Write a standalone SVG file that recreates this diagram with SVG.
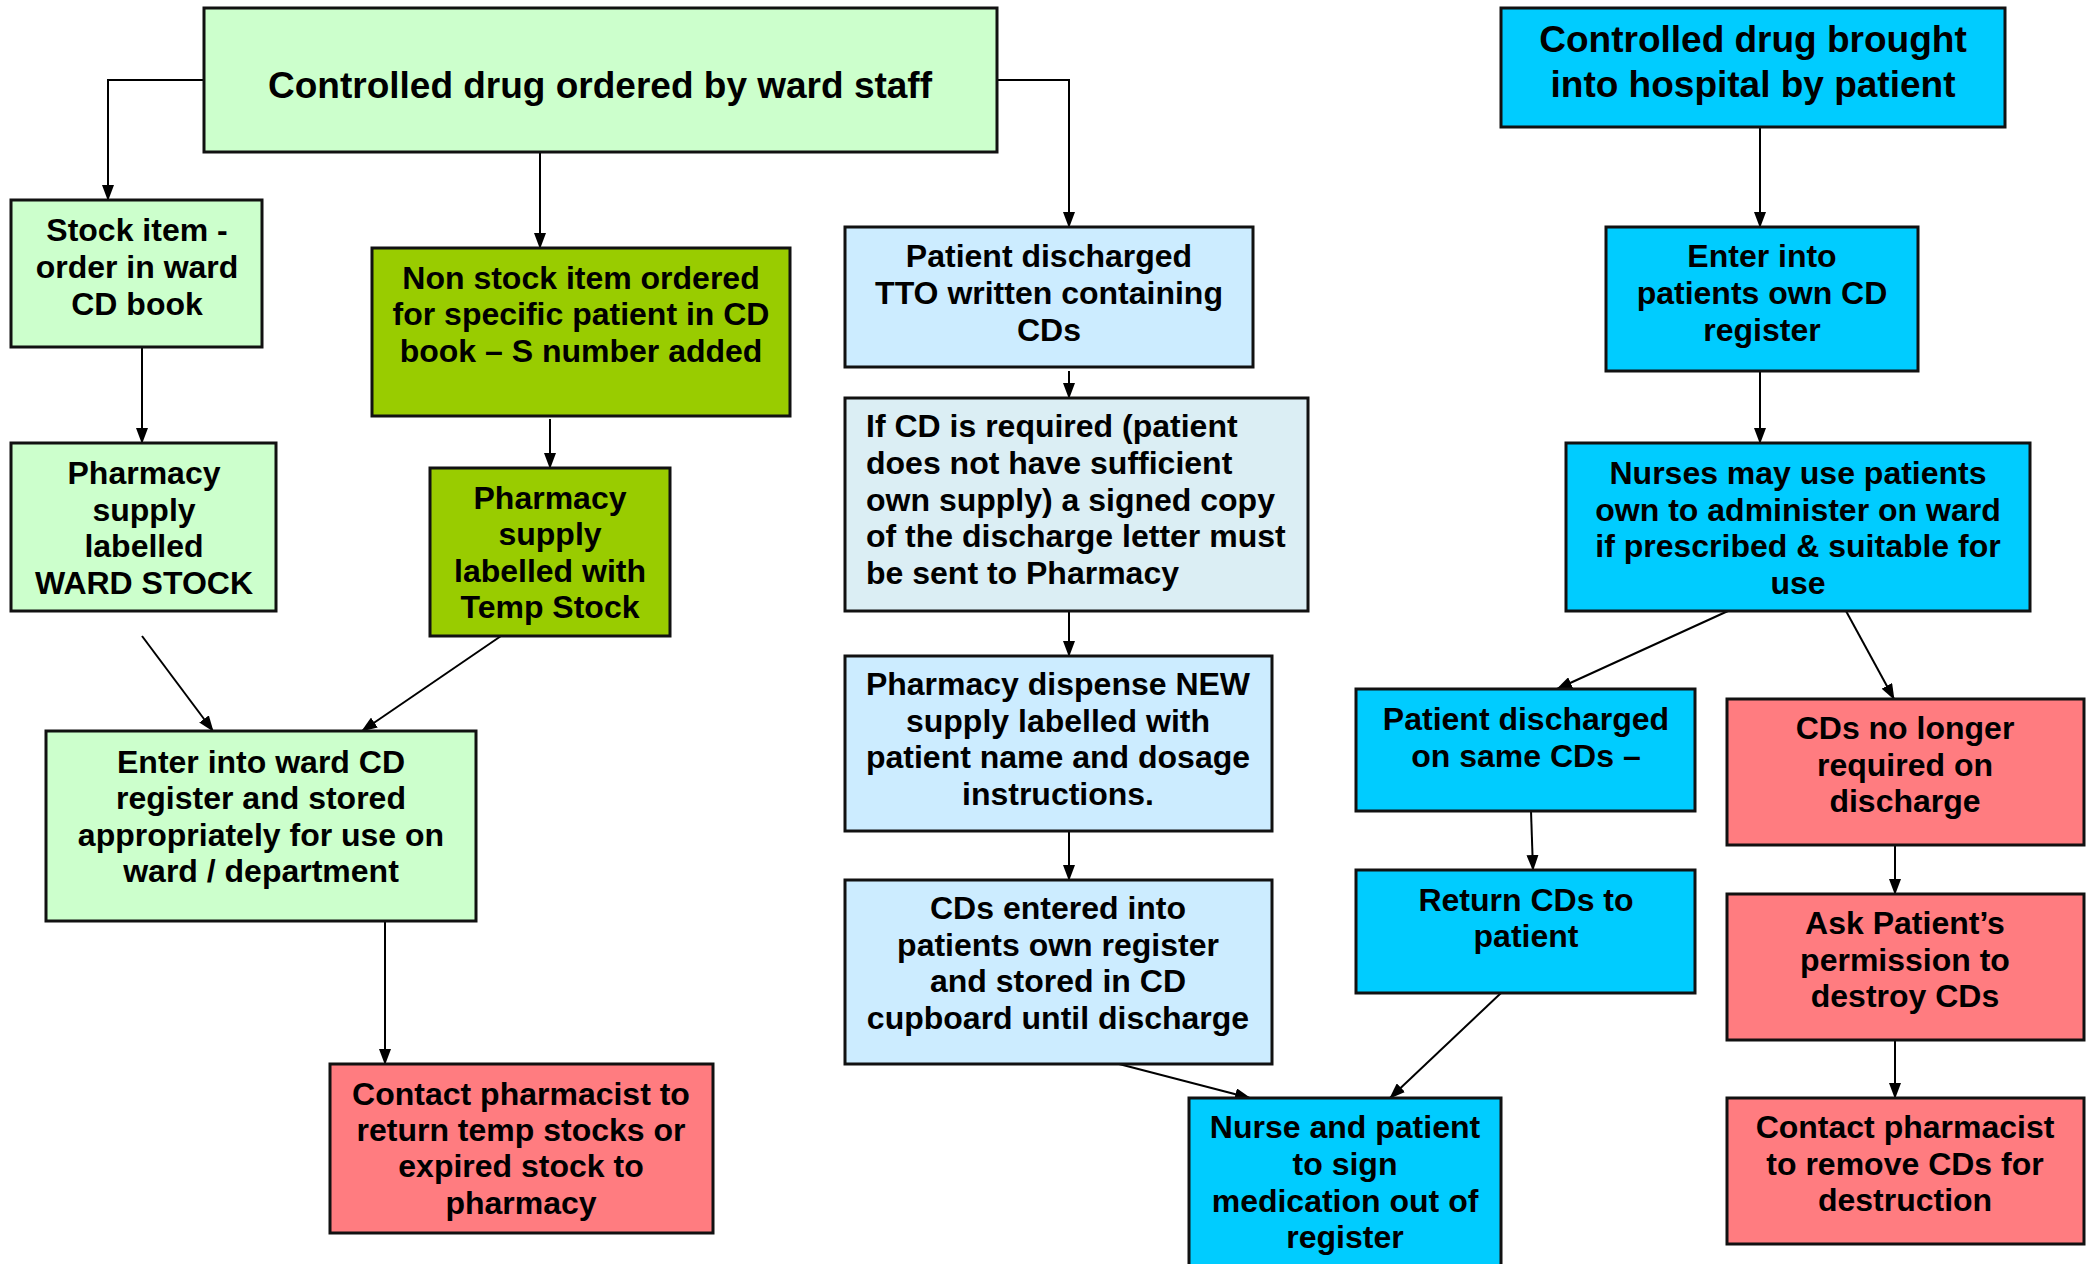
<svg xmlns="http://www.w3.org/2000/svg" width="2092" height="1264" viewBox="0 0 2092 1264">
<style>
  .box { stroke: #111; stroke-width: 3; }
  .lg { fill: #CCFFCC; }
  .ol { fill: #99CC00; }
  .lb { fill: #CCECFF; }
  .pb { fill: #DBEEF4; }
  .cy { fill: #00CCFF; }
  .rd { fill: #FF7C80; }
  text { font-family: "Liberation Sans", Arial, sans-serif; font-weight: bold; font-size: 32px; fill: #000; text-anchor: middle; }
  text.t { font-size: 37px; }
  text.l { text-anchor: start; }
  .conn path { fill: none; stroke: #000; stroke-width: 2; marker-end: url(#ah); }
</style>
<defs>
  <marker id="ah" markerUnits="userSpaceOnUse" markerWidth="16" markerHeight="12" refX="15" refY="6" orient="auto">
    <path d="M0,0 L16,6 L0,12 z" fill="#000"/>
  </marker>
</defs>
<rect width="2092" height="1264" fill="#fff"/>

<g class="conn">
  <path d="M204,80 H108 V200"/>
  <path d="M540,152 V248"/>
  <path d="M996,80 H1069 V227"/>
  <path d="M142,347 V443"/>
  <path d="M550,419 V468"/>
  <path d="M142,636 L213,731"/>
  <path d="M501,636 L362,731"/>
  <path d="M385,921 V1064"/>
  <path d="M1069,371 V398"/>
  <path d="M1069,611 V656"/>
  <path d="M1069,831 V880"/>
  <path d="M1119,1064 L1250,1098"/>
  <path d="M1501,993 L1390,1098"/>
  <path d="M1760,127 V227"/>
  <path d="M1760,371 V443"/>
  <path d="M1728,611 L1557,689"/>
  <path d="M1846,611 L1894,699"/>
  <path d="M1531,811 L1533,870"/>
  <path d="M1895,846 V894"/>
  <path d="M1895,1040 V1098"/>
</g>

<g id="n_ordered">
  <rect class="box lg" x="204" y="8" width="793" height="144"/>
  <text class="t" x="600" y="98">Controlled drug ordered by ward staff</text>
</g>
<g id="n_stock">
  <rect class="box lg" x="11" y="200" width="251" height="147"/>
  <text x="137" y="241">Stock item -</text>
  <text x="137" y="278">order in ward</text>
  <text x="137" y="315">CD book</text>
</g>
<g id="n_wardstock">
  <rect class="box lg" x="11" y="443" width="265" height="168"/>
  <text x="144" y="484">Pharmacy</text>
  <text x="144" y="521">supply</text>
  <text x="144" y="557">labelled</text>
  <text x="144" y="594">WARD STOCK</text>
</g>
<g id="n_nonstock">
  <rect class="box ol" x="372" y="248" width="418" height="168"/>
  <text x="581" y="289">Non stock item ordered</text>
  <text x="581" y="325">for specific patient in CD</text>
  <text x="581" y="362">book – S number added</text>
</g>
<g id="n_temp">
  <rect class="box ol" x="430" y="468" width="240" height="168"/>
  <text x="550" y="509">Pharmacy</text>
  <text x="550" y="545">supply</text>
  <text x="550" y="582">labelled with</text>
  <text x="550" y="618">Temp Stock</text>
</g>
<g id="n_enterward">
  <rect class="box lg" x="46" y="731" width="430" height="190"/>
  <text x="261" y="773">Enter into ward CD</text>
  <text x="261" y="809">register and stored</text>
  <text x="261" y="846">appropriately for use on</text>
  <text x="261" y="882">ward / department</text>
</g>
<g id="n_contact1">
  <rect class="box rd" x="330" y="1064" width="383" height="169"/>
  <text x="521" y="1105">Contact pharmacist to</text>
  <text x="521" y="1141">return temp stocks or</text>
  <text x="521" y="1177">expired stock to</text>
  <text x="521" y="1214">pharmacy</text>
</g>
<g id="n_tto">
  <rect class="box lb" x="845" y="227" width="408" height="140"/>
  <text x="1049" y="267">Patient discharged</text>
  <text x="1049" y="304">TTO written containing</text>
  <text x="1049" y="341">CDs</text>
</g>
<g id="n_ifcd">
  <rect class="box pb" x="845" y="398" width="463" height="213"/>
  <text class="l" x="866" y="437">If CD is required (patient</text>
  <text class="l" x="866" y="474">does not have sufficient</text>
  <text class="l" x="866" y="511">own supply) a signed copy</text>
  <text class="l" x="866" y="547">of the discharge letter must</text>
  <text class="l" x="866" y="584">be sent to Pharmacy</text>
</g>
<g id="n_dispense">
  <rect class="box lb" x="845" y="656" width="427" height="175"/>
  <text x="1058" y="695">Pharmacy dispense NEW</text>
  <text x="1058" y="732">supply labelled with</text>
  <text x="1058" y="768">patient name and dosage</text>
  <text x="1058" y="805">instructions.</text>
</g>
<g id="n_entered">
  <rect class="box lb" x="845" y="880" width="427" height="184"/>
  <text x="1058" y="919">CDs entered into</text>
  <text x="1058" y="956">patients own register</text>
  <text x="1058" y="992">and stored in CD</text>
  <text x="1058" y="1029">cupboard until discharge</text>
</g>
<g id="n_brought">
  <rect class="box cy" x="1501" y="8" width="504" height="119"/>
  <text class="t" x="1753" y="52">Controlled drug brought</text>
  <text class="t" x="1753" y="97">into hospital by patient</text>
</g>
<g id="n_enterown">
  <rect class="box cy" x="1606" y="227" width="312" height="144"/>
  <text x="1762" y="267">Enter into</text>
  <text x="1762" y="304">patients own CD</text>
  <text x="1762" y="341">register</text>
</g>
<g id="n_nurses">
  <rect class="box cy" x="1566" y="443" width="464" height="168"/>
  <text x="1798" y="484">Nurses may use patients</text>
  <text x="1798" y="521">own to administer on ward</text>
  <text x="1798" y="557">if prescribed &amp; suitable for</text>
  <text x="1798" y="594">use</text>
</g>
<g id="n_samecds">
  <rect class="box cy" x="1356" y="689" width="339" height="122"/>
  <text x="1526" y="730">Patient discharged</text>
  <text x="1526" y="767">on same CDs –</text>
</g>
<g id="n_return">
  <rect class="box cy" x="1356" y="870" width="339" height="123"/>
  <text x="1526" y="911">Return CDs to</text>
  <text x="1526" y="947">patient</text>
</g>
<g id="n_nurseSign">
  <rect class="box cy" x="1189" y="1098" width="312" height="180"/>
  <text x="1345" y="1138">Nurse and patient</text>
  <text x="1345" y="1175">to sign</text>
  <text x="1345" y="1212">medication out of</text>
  <text x="1345" y="1248">register</text>
</g>
<g id="n_nolonger">
  <rect class="box rd" x="1727" y="699" width="357" height="146"/>
  <text x="1905" y="739">CDs no longer</text>
  <text x="1905" y="776">required on</text>
  <text x="1905" y="812">discharge</text>
</g>
<g id="n_ask">
  <rect class="box rd" x="1727" y="894" width="357" height="146"/>
  <text x="1905" y="934">Ask Patient’s</text>
  <text x="1905" y="971">permission to</text>
  <text x="1905" y="1007">destroy CDs</text>
</g>
<g id="n_contact2">
  <rect class="box rd" x="1727" y="1098" width="357" height="146"/>
  <text x="1905" y="1138">Contact pharmacist</text>
  <text x="1905" y="1175">to remove CDs for</text>
  <text x="1905" y="1211">destruction</text>
</g>
</svg>
